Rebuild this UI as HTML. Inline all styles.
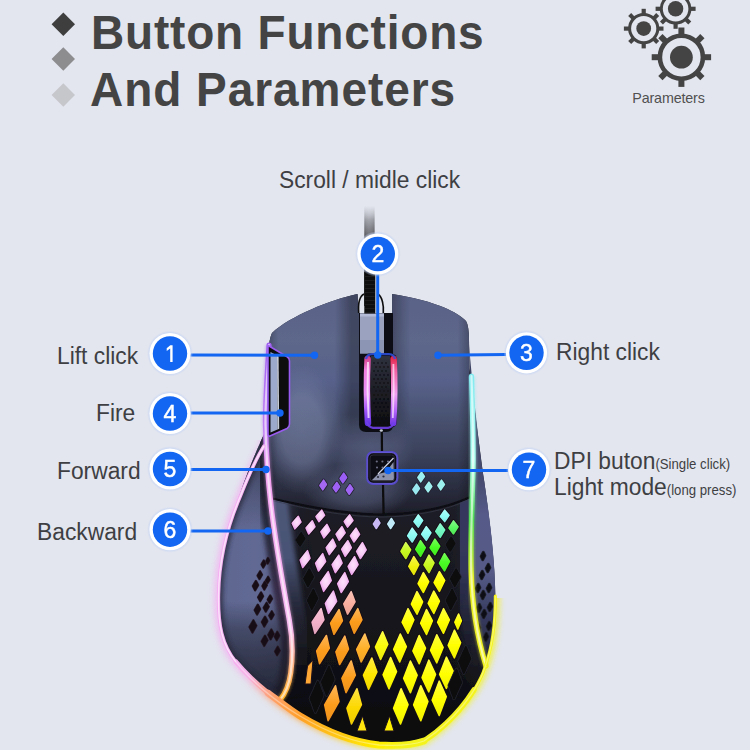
<!DOCTYPE html>
<html><head><meta charset="utf-8"><style>
html,body{margin:0;padding:0;}
body{width:750px;height:750px;overflow:hidden;background:#e3e6ef;position:relative;font-family:"Liberation Sans",sans-serif;}
.t{position:absolute;white-space:nowrap;line-height:1;}
.h{font-weight:700;font-size:46px;color:#444;letter-spacing:0.8px;transform:scaleY(1.05);transform-origin:0 0;}
.l{font-size:22.8px;color:#3e3f43;transform:scaleY(1.04);transform-origin:0 0;}
.s{font-size:13.2px;color:#3e3f43;}
svg{position:absolute;left:0;top:0;}
.bn{font-family:"Liberation Sans",sans-serif;font-size:23px;}
</style></head><body>
<div class="t h" style="left:91px;top:8px;">Button Functions</div>
<div class="t h" style="left:90px;top:65px;letter-spacing:0.95px;">And Parameters</div>
<div class="t" style="left:632.3px;top:90.8px;font-size:14.3px;letter-spacing:-0.15px;color:#505050;">Parameters</div>
<div class="t l" style="left:279px;top:168px;">Scroll / midle click</div>
<div class="t l" style="left:57px;top:343.5px;">Lift click</div>
<div class="t l" style="left:96px;top:401px;">Fire</div>
<div class="t l" style="left:57px;top:458.5px;">Forward</div>
<div class="t l" style="left:37px;top:520px;">Backward</div>
<div class="t l" style="left:556px;top:340px;">Right click</div>
<div class="t l" style="left:554px;top:448.5px;">DPI buton<span class="s">(Single click)</span></div>
<div class="t l" style="left:554px;top:475px;">Light mode<span class="s">(long press)</span></div>
<svg width="750" height="750" viewBox="0 0 750 750">
<defs>
<radialGradient id="halo"><stop offset="0.85" stop-color="#b9cdf5" stop-opacity="0.9"/><stop offset="1" stop-color="#c8d6f3" stop-opacity="0"/></radialGradient>
</defs>
<path d="M63.3 12.5 L75 24.2 L63.3 35.9 L51.6 24.2Z" fill="#3e3e3e"/>
<path d="M63.3 47.3 L75 59 L63.3 70.7 L51.6 59Z" fill="#8d8d8f"/>
<path d="M63.3 83.3 L75 95 L63.3 106.7 L51.6 95Z" fill="#c6c7cb"/>
<g fill="#444"><rect x="641.60" y="8.80" width="4.20" height="5.70" transform="rotate(0.0 643.7 28.6)"/><rect x="641.60" y="8.80" width="4.20" height="5.70" transform="rotate(45.0 643.7 28.6)"/><rect x="641.60" y="8.80" width="4.20" height="5.70" transform="rotate(90.0 643.7 28.6)"/><rect x="641.60" y="8.80" width="4.20" height="5.70" transform="rotate(135.0 643.7 28.6)"/><rect x="641.60" y="8.80" width="4.20" height="5.70" transform="rotate(180.0 643.7 28.6)"/><rect x="641.60" y="8.80" width="4.20" height="5.70" transform="rotate(225.0 643.7 28.6)"/><rect x="641.60" y="8.80" width="4.20" height="5.70" transform="rotate(270.0 643.7 28.6)"/><rect x="641.60" y="8.80" width="4.20" height="5.70" transform="rotate(315.0 643.7 28.6)"/><circle cx="643.7" cy="28.6" r="14.10" fill="none" stroke="#444" stroke-width="3.00"/><circle cx="643.7" cy="28.6" r="7.4"/></g><g fill="#444"><rect x="673.50" y="-11.20" width="4.20" height="5.70" transform="rotate(0.0 675.6 8.8)"/><rect x="673.50" y="-11.20" width="4.20" height="5.70" transform="rotate(45.0 675.6 8.8)"/><rect x="673.50" y="-11.20" width="4.20" height="5.70" transform="rotate(90.0 675.6 8.8)"/><rect x="673.50" y="-11.20" width="4.20" height="5.70" transform="rotate(135.0 675.6 8.8)"/><rect x="673.50" y="-11.20" width="4.20" height="5.70" transform="rotate(180.0 675.6 8.8)"/><rect x="673.50" y="-11.20" width="4.20" height="5.70" transform="rotate(225.0 675.6 8.8)"/><rect x="673.50" y="-11.20" width="4.20" height="5.70" transform="rotate(270.0 675.6 8.8)"/><rect x="673.50" y="-11.20" width="4.20" height="5.70" transform="rotate(315.0 675.6 8.8)"/><circle cx="675.6" cy="8.8" r="14.30" fill="none" stroke="#444" stroke-width="3.00"/><circle cx="675.6" cy="8.8" r="7.7"/></g><g fill="#444"><rect x="678.40" y="27.50" width="6.00" height="7.40" transform="rotate(0.0 681.4 57.2)"/><rect x="678.40" y="27.50" width="6.00" height="7.40" transform="rotate(45.0 681.4 57.2)"/><rect x="678.40" y="27.50" width="6.00" height="7.40" transform="rotate(90.0 681.4 57.2)"/><rect x="678.40" y="27.50" width="6.00" height="7.40" transform="rotate(135.0 681.4 57.2)"/><rect x="678.40" y="27.50" width="6.00" height="7.40" transform="rotate(180.0 681.4 57.2)"/><rect x="678.40" y="27.50" width="6.00" height="7.40" transform="rotate(225.0 681.4 57.2)"/><rect x="678.40" y="27.50" width="6.00" height="7.40" transform="rotate(270.0 681.4 57.2)"/><rect x="678.40" y="27.50" width="6.00" height="7.40" transform="rotate(315.0 681.4 57.2)"/><circle cx="681.4" cy="57.2" r="21.50" fill="none" stroke="#444" stroke-width="4.60"/><circle cx="681.4" cy="57.2" r="11.4"/></g>
<filter id="soft" x="0" y="0" width="100%" height="100%" filterUnits="userSpaceOnUse"><feGaussianBlur stdDeviation="0.45"/></filter><g filter="url(#soft)"><defs>
<linearGradient id="gTop" x1="0" y1="294" x2="0" y2="515" gradientUnits="userSpaceOnUse"><stop offset="0" stop-color="#5a6288"/><stop offset="0.208" stop-color="#5d678a"/><stop offset="0.394" stop-color="#57618a"/><stop offset="0.575" stop-color="#47506e"/><stop offset="0.756" stop-color="#373d56"/><stop offset="0.887" stop-color="#292c3d"/><stop offset="1" stop-color="#1c1d28"/></linearGradient>
<linearGradient id="gTopH" x1="266" y1="0" x2="470" y2="0" gradientUnits="userSpaceOnUse"><stop offset="0" stop-color="#000" stop-opacity="0.3"/><stop offset="0.06" stop-color="#000" stop-opacity="0"/><stop offset="0.94" stop-color="#000" stop-opacity="0"/><stop offset="1" stop-color="#000" stop-opacity="0.25"/></linearGradient>
<linearGradient id="gChan" x1="335" y1="0" x2="410" y2="0" gradientUnits="userSpaceOnUse"><stop offset="0" stop-color="#000" stop-opacity="0"/><stop offset="0.22" stop-color="#000" stop-opacity="0.3"/><stop offset="0.73" stop-color="#000" stop-opacity="0.3"/><stop offset="1" stop-color="#000" stop-opacity="0"/></linearGradient>
<linearGradient id="gChanM" x1="0" y1="294" x2="0" y2="445" gradientUnits="userSpaceOnUse"><stop offset="0" stop-color="#fff"/><stop offset="0.8" stop-color="#fff"/><stop offset="1" stop-color="#fff" stop-opacity="0"/></linearGradient>
<mask id="mChan"><rect x="330" y="290" width="90" height="160" fill="url(#gChanM)"/></mask>
<radialGradient id="gTopHL2" cx="358" cy="490" r="55" gradientUnits="userSpaceOnUse" gradientTransform="translate(358 490) scale(1 0.5) translate(-358 -490)"><stop offset="0" stop-color="#5a6282" stop-opacity="0.65"/><stop offset="0.5" stop-color="#5a6282" stop-opacity="0.5"/><stop offset="1" stop-color="#5a6282" stop-opacity="0"/></radialGradient>
<radialGradient id="gTopHL3" cx="372" cy="448" r="42" gradientUnits="userSpaceOnUse"><stop offset="0" stop-color="#646c8e" stop-opacity="0.5"/><stop offset="0.6" stop-color="#646c8e" stop-opacity="0.3"/><stop offset="1" stop-color="#646c8e" stop-opacity="0"/></radialGradient>
<radialGradient id="gTopHL" cx="302" cy="430" r="65" gradientUnits="userSpaceOnUse" gradientTransform="translate(302 430) scale(0.62 1) translate(-302 -430)"><stop offset="0" stop-color="#8a94b8" stop-opacity="0.45"/><stop offset="0.5" stop-color="#8a94b8" stop-opacity="0.4"/><stop offset="0.8" stop-color="#8a94b8" stop-opacity="0.12"/><stop offset="1" stop-color="#8a94b8" stop-opacity="0"/></radialGradient>
<linearGradient id="gWL" x1="218" y1="0" x2="292" y2="0" gradientUnits="userSpaceOnUse"><stop offset="0" stop-color="#5e6690"/><stop offset="0.5" stop-color="#626a94"/><stop offset="1" stop-color="#5a6088"/></linearGradient>
<linearGradient id="gWLv" x1="0" y1="440" x2="0" y2="700" gradientUnits="userSpaceOnUse"><stop offset="0" stop-color="#1a1c28" stop-opacity="0.6"/><stop offset="0.23" stop-color="#1a1c28" stop-opacity="0.2"/><stop offset="0.35" stop-color="#1a1c28" stop-opacity="0"/><stop offset="0.62" stop-color="#1a1c28" stop-opacity="0"/><stop offset="0.73" stop-color="#1a1c28" stop-opacity="0.4"/><stop offset="0.835" stop-color="#1a1c28" stop-opacity="0.62"/><stop offset="0.95" stop-color="#1a1c28" stop-opacity="0.8"/></linearGradient>
<linearGradient id="gWLband" x1="0" y1="430" x2="0" y2="700" gradientUnits="userSpaceOnUse"><stop offset="0" stop-color="#1c1e2a"/><stop offset="0.4" stop-color="#2a2c40"/><stop offset="0.6" stop-color="#362a46"/><stop offset="1" stop-color="#2a2434"/></linearGradient>
<linearGradient id="gWR" x1="470" y1="350" x2="495" y2="660" gradientUnits="userSpaceOnUse"><stop offset="0" stop-color="#3a4060"/><stop offset="0.42" stop-color="#464c70"/><stop offset="0.53" stop-color="#555a88"/><stop offset="0.72" stop-color="#545a86"/><stop offset="0.85" stop-color="#383c60"/><stop offset="1" stop-color="#22243a"/></linearGradient>
<linearGradient id="gPalm" x1="0" y1="500" x2="0" y2="745" gradientUnits="userSpaceOnUse"><stop offset="0" stop-color="#1e1f27"/><stop offset="0.6" stop-color="#131318"/><stop offset="1" stop-color="#0a0a0d"/></linearGradient>
<linearGradient id="gRim" x1="240" y1="640" x2="400" y2="750" gradientUnits="userSpaceOnUse"><stop offset="0" stop-color="#f4b0f2"/><stop offset="0.14" stop-color="#f6b4e8"/><stop offset="0.3" stop-color="#ffa070"/><stop offset="0.48" stop-color="#ffa028"/><stop offset="0.72" stop-color="#ffcc10"/><stop offset="0.9" stop-color="#fff000"/><stop offset="1" stop-color="#f4f41c"/></linearGradient>
<linearGradient id="gInL" x1="0" y1="340" x2="0" y2="700" gradientUnits="userSpaceOnUse"><stop offset="0" stop-color="#a060f0"/><stop offset="0.25" stop-color="#c080f4"/><stop offset="0.35" stop-color="#f2a0f0"/><stop offset="0.8" stop-color="#f7b8f0"/><stop offset="0.92" stop-color="#ffb070"/><stop offset="1" stop-color="#ffb020"/></linearGradient>
<linearGradient id="gInR" x1="0" y1="370" x2="0" y2="670" gradientUnits="userSpaceOnUse"><stop offset="0" stop-color="#80e8f0"/><stop offset="0.3" stop-color="#b0fff0"/><stop offset="0.5" stop-color="#50e050"/><stop offset="0.7" stop-color="#e8f020"/><stop offset="1" stop-color="#f0f020"/></linearGradient>
<linearGradient id="gCable" x1="0" y1="206" x2="0" y2="300" gradientUnits="userSpaceOnUse"><stop offset="0" stop-color="#c0c2ca" stop-opacity="0"/><stop offset="0.05" stop-color="#c0c2ca" stop-opacity="0.5"/><stop offset="0.14" stop-color="#a4a6ae"/><stop offset="0.3" stop-color="#6a6b72"/><stop offset="0.55" stop-color="#1a1a1c"/><stop offset="1" stop-color="#0a0a0c"/></linearGradient>
<linearGradient id="gCableH" x1="364" y1="0" x2="375" y2="0" gradientUnits="userSpaceOnUse"><stop offset="0" stop-color="#000" stop-opacity="0.35"/><stop offset="0.45" stop-color="#fff" stop-opacity="0.12"/><stop offset="1" stop-color="#000" stop-opacity="0.35"/></linearGradient>
<filter id="blur2" x="-20%" y="-20%" width="140%" height="140%"><feGaussianBlur stdDeviation="2"/></filter>
<filter id="blur1" x="-20%" y="-20%" width="140%" height="140%"><feGaussianBlur stdDeviation="0.8"/></filter>
<filter id="blur4" x="-30%" y="-30%" width="160%" height="160%"><feGaussianBlur stdDeviation="4"/></filter>
<linearGradient id="gCabM" x1="0" y1="206" x2="0" y2="260" gradientUnits="userSpaceOnUse"><stop offset="0" stop-color="#fff" stop-opacity="0"/><stop offset="1" stop-color="#fff"/></linearGradient>
<mask id="mCab"><rect x="360" y="200" width="20" height="110" fill="url(#gCabM)"/></mask>
<clipPath id="cOuter"><path d="M 272 333 C 290 316, 330 300, 357.5 294 L 359 313 L 392 313 L 392 294 C 425 299, 455 309, 466 321 Q 469 326, 469 340 L 469.5 368 C 474 405, 480 450, 484 480 C 489 515, 495 560, 495.3 596 C 495.5 625, 492 648, 485 667 C 478 690, 455 720, 424 741 C 410 746, 395 746, 379 745 C 350 742, 320 728, 300 716 C 280 704, 255 685, 236 662 C 222 645, 218 625, 218.5 595 C 219 560, 228 525, 240 497 C 246 482, 255 460, 264 446 C 266 420, 267 370, 269 345 Q 270 337, 272 333 Z"/></clipPath>
<clipPath id="cLower"><path d="M 150 440 L 262 440 L 275 560 L 470 560 L 482 598 L 560 598 L 560 760 L 150 760 Z"/></clipPath>
<clipPath id="cWL"><path d="M 265 432 C 252 460, 222 530, 218.5 592 C 217 625, 225 650, 240 667 C 252 680, 265 692, 280 700 C 285 694, 289 685, 290.7 673 C 292.5 660, 293 640, 289.3 620 C 283 585, 275 540, 271 505 C 268 480, 266 450, 265.5 425 Z"/></clipPath>
</defs>
<rect x="364.3" y="206" width="10.3" height="100" fill="url(#gCable)"/>
<rect x="364.3" y="206" width="10.3" height="100" fill="url(#gCableH)" mask="url(#mCab)"/>
<path d="M 272 333 C 290 316, 330 300, 357.5 294 L 359 313 L 392 313 L 392 294 C 425 299, 455 309, 466 321 Q 469 326, 469 340 L 469.5 368 C 474 405, 480 450, 484 480 C 489 515, 495 560, 495.3 596 C 495.5 625, 492 648, 485 667 C 478 690, 455 720, 424 741 C 410 746, 395 746, 379 745 C 350 742, 320 728, 300 716 C 280 704, 255 685, 236 662 C 222 645, 218 625, 218.5 595 C 219 560, 228 525, 240 497 C 246 482, 255 460, 264 446 C 266 420, 267 370, 269 345 Q 270 337, 272 333 Z" fill="none" stroke="url(#gRim)" stroke-width="6" opacity="0.45" filter="url(#blur4)" clip-path="url(#cLower)"/>
<path d="M 272 333 C 290 316, 330 300, 357.5 294 L 359 313 L 392 313 L 392 294 C 425 299, 455 309, 466 321 Q 469 326, 469 340 L 469.5 368 C 474 405, 480 450, 484 480 C 489 515, 495 560, 495.3 596 C 495.5 625, 492 648, 485 667 C 478 690, 455 720, 424 741 C 410 746, 395 746, 379 745 C 350 742, 320 728, 300 716 C 280 704, 255 685, 236 662 C 222 645, 218 625, 218.5 595 C 219 560, 228 525, 240 497 C 246 482, 255 460, 264 446 C 266 420, 267 370, 269 345 Q 270 337, 272 333 Z" fill="none" stroke="url(#gRim)" stroke-width="9" opacity="0.5" filter="url(#blur2)" clip-path="url(#cLower)"/>
<path d="M 272 333 C 290 316, 330 300, 357.5 294 L 359 313 L 392 313 L 392 294 C 425 299, 455 309, 466 321 Q 469 326, 469 340 L 469.5 368 C 474 405, 480 450, 484 480 C 489 515, 495 560, 495.3 596 C 495.5 625, 492 648, 485 667 C 478 690, 455 720, 424 741 C 410 746, 395 746, 379 745 C 350 742, 320 728, 300 716 C 280 704, 255 685, 236 662 C 222 645, 218 625, 218.5 595 C 219 560, 228 525, 240 497 C 246 482, 255 460, 264 446 C 266 420, 267 370, 269 345 Q 270 337, 272 333 Z" fill="url(#gPalm)"/>
<defs><linearGradient id="gPalmH" x1="270" y1="0" x2="480" y2="0" gradientUnits="userSpaceOnUse"><stop offset="0" stop-color="#59608a" stop-opacity="0.75"/><stop offset="0.1" stop-color="#3a3f5c" stop-opacity="0.35"/><stop offset="0.2" stop-color="#000" stop-opacity="0"/><stop offset="0.82" stop-color="#000" stop-opacity="0"/><stop offset="0.93" stop-color="#3a3f5c" stop-opacity="0.35"/><stop offset="1" stop-color="#59608a" stop-opacity="0.6"/></linearGradient><linearGradient id="gPalmV" x1="0" y1="495" x2="0" y2="700" gradientUnits="userSpaceOnUse"><stop offset="0" stop-color="#fff"/><stop offset="0.45" stop-color="#fff" stop-opacity="0.6"/><stop offset="1" stop-color="#fff" stop-opacity="0"/></linearGradient><mask id="mPalmV"><rect x="200" y="480" width="320" height="280" fill="url(#gPalmV)"/></mask></defs>
<path d="M 272 333 C 290 316, 330 300, 357.5 294 L 359 313 L 392 313 L 392 294 C 425 299, 455 309, 466 321 Q 469 326, 469 340 L 469.5 368 C 474 405, 480 450, 484 480 C 489 515, 495 560, 495.3 596 C 495.5 625, 492 648, 485 667 C 478 690, 455 720, 424 741 C 410 746, 395 746, 379 745 C 350 742, 320 728, 300 716 C 280 704, 255 685, 236 662 C 222 645, 218 625, 218.5 595 C 219 560, 228 525, 240 497 C 246 482, 255 460, 264 446 C 266 420, 267 370, 269 345 Q 270 337, 272 333 Z" fill="url(#gPalmH)" mask="url(#mPalmV)"/>
<defs><linearGradient id="gBandPL" x1="0" y1="495" x2="0" y2="680" gradientUnits="userSpaceOnUse"><stop offset="0" stop-color="#4e5878"/><stop offset="0.35" stop-color="#485274"/><stop offset="0.6" stop-color="#2e3246" stop-opacity="0.7"/><stop offset="1" stop-color="#1c1d26" stop-opacity="0"/></linearGradient><linearGradient id="gBandPR" x1="0" y1="495" x2="0" y2="680" gradientUnits="userSpaceOnUse"><stop offset="0" stop-color="#363a5c"/><stop offset="0.4" stop-color="#33365a"/><stop offset="0.7" stop-color="#262840" stop-opacity="0.6"/><stop offset="1" stop-color="#1c1d26" stop-opacity="0"/></linearGradient></defs>
<path d="M 269 345 C 267 380, 265 405, 265.5 425 C 266 450, 268 480, 271 505 C 275 540, 283 585, 289.3 620 C 293 640, 292.5 660, 290.7 673 C 289 685, 285 694, 280 700" fill="none" stroke="url(#gBandPL)" stroke-width="16" transform="translate(9 0)" filter="url(#blur2)" clip-path="url(#cOuter)"/>
<path d="M 471.5 376 C 472.5 410, 473.5 440, 473 470 C 472 510, 470.5 540, 471.2 570 C 472 610, 478 640, 486 666" fill="none" stroke="url(#gBandPR)" stroke-width="16" transform="translate(-8 0)" filter="url(#blur2)" clip-path="url(#cOuter)"/>
<path d="M 272 333 C 290 316, 330 300, 357.5 294 L 359 313 L 392 313 L 392 294 C 425 299, 455 309, 466 321 Q 469 326, 469 340 L 470.5 497 C 447 508, 412 514.5, 382 514.6 C 352 514.5, 316 509, 270 498 C 268 475, 266 450, 265.5 425 C 266 400, 267 370, 269 345 Q 270 337, 272 333 Z" fill="url(#gTop)"/>
<path d="M 272 333 C 290 316, 330 300, 357.5 294 L 359 313 L 392 313 L 392 294 C 425 299, 455 309, 466 321 Q 469 326, 469 340 L 470.5 497 C 447 508, 412 514.5, 382 514.6 C 352 514.5, 316 509, 270 498 C 268 475, 266 450, 265.5 425 C 266 400, 267 370, 269 345 Q 270 337, 272 333 Z" fill="url(#gTopH)"/>
<path d="M 272 333 C 290 316, 330 300, 357.5 294 L 359 313 L 392 313 L 392 294 C 425 299, 455 309, 466 321 Q 469 326, 469 340 L 470.5 497 C 447 508, 412 514.5, 382 514.6 C 352 514.5, 316 509, 270 498 C 268 475, 266 450, 265.5 425 C 266 400, 267 370, 269 345 Q 270 337, 272 333 Z" fill="url(#gTopHL)"/>
<path d="M 272 333 C 290 316, 330 300, 357.5 294 L 359 313 L 392 313 L 392 294 C 425 299, 455 309, 466 321 Q 469 326, 469 340 L 470.5 497 C 447 508, 412 514.5, 382 514.6 C 352 514.5, 316 509, 270 498 C 268 475, 266 450, 265.5 425 C 266 400, 267 370, 269 345 Q 270 337, 272 333 Z" fill="url(#gTopHL2)"/>
<path d="M 272 333 C 290 316, 330 300, 357.5 294 L 359 313 L 392 313 L 392 294 C 425 299, 455 309, 466 321 Q 469 326, 469 340 L 470.5 497 C 447 508, 412 514.5, 382 514.6 C 352 514.5, 316 509, 270 498 C 268 475, 266 450, 265.5 425 C 266 400, 267 370, 269 345 Q 270 337, 272 333 Z" fill="url(#gTopHL3)"/>
<clipPath id="cTop"><path d="M 272 333 C 290 316, 330 300, 357.5 294 L 359 313 L 392 313 L 392 294 C 425 299, 455 309, 466 321 Q 469 326, 469 340 L 470.5 497 C 447 508, 412 514.5, 382 514.6 C 352 514.5, 316 509, 270 498 C 268 475, 266 450, 265.5 425 C 266 400, 267 370, 269 345 Q 270 337, 272 333 Z"/></clipPath>
<rect x="335" y="294" width="75" height="155" fill="url(#gChan)" mask="url(#mChan)" clip-path="url(#cTop)"/>
<path d="M 265 432 C 252 460, 222 530, 218.5 592 C 217 625, 225 650, 240 667 C 252 680, 265 692, 280 700 C 285 694, 289 685, 290.7 673 C 292.5 660, 293 640, 289.3 620 C 283 585, 275 540, 271 505 C 268 480, 266 450, 265.5 425 Z" fill="url(#gWL)"/>
<path d="M 269 345 C 267 380, 265 405, 265.5 425 C 266 450, 268 480, 271 505 C 275 540, 283 585, 289.3 620 C 293 640, 292.5 660, 290.7 673 C 289 685, 285 694, 280 700" fill="none" stroke="url(#gWLband)" stroke-width="22" filter="url(#blur2)" clip-path="url(#cWL)"/>
<path d="M 265 432 C 252 460, 222 530, 218.5 592 C 217 625, 225 650, 240 667 C 252 680, 265 692, 280 700 C 285 694, 289 685, 290.7 673 C 292.5 660, 293 640, 289.3 620 C 283 585, 275 540, 271 505 C 268 480, 266 450, 265.5 425 Z" fill="url(#gWLv)"/>
<path d="M 264 446 C 255 460, 246 482, 240 497 C 228 525, 219 560, 218.5 595 C 218 625, 222 645, 236 662 C 250 678, 265 690, 280 700" fill="none" stroke="#252838" stroke-width="9" opacity="0.75" filter="url(#blur2)" clip-path="url(#cWL)"/>
<path d="M 469 345 C 472 380, 478 440, 484 480 C 490 520, 495 560, 495.3 596 C 495.5 625, 492 650, 486 666 C 481 652, 475 625, 472.5 595 C 470 560, 470.5 520, 471 480 C 472 440, 470.5 390, 469 345 Z" fill="url(#gWR)"/>
<path d="M 270 498 C 316 509, 352 514.5, 382 514.6 C 412 514.5, 447 508, 470.5 497" fill="none" stroke="#0d0d12" stroke-width="2.2"/>
<path d="M 272 500.5 C 316 511.5, 352 517, 382 517 C 412 517, 447 510.5, 469 499.5" fill="none" stroke="#3a3d50" stroke-width="1" opacity="0.6"/>
<path d="M 381.8 428 L 382 452 M 383 484 L 383.6 514" stroke="#0a0a0e" stroke-width="2.2"/>
<defs><radialGradient id="dg0" cx="0.5" cy="0.45" r="0.6"><stop offset="0" stop-color="#fde0fb"/><stop offset="0.55" stop-color="#f8ccf6"/><stop offset="1" stop-color="#e89ce8"/></radialGradient></defs>
<path d="M298.3 516.4 L301.0 522.0 L294.9 528.8 L292.2 523.2Z" fill="#140a14" stroke="#140a14" stroke-width="3.2" stroke-linejoin="round" opacity="1.0"/><path d="M298.3 516.4 L301.0 522.0 L294.9 528.8 L292.2 523.2Z" fill="url(#dg0)" stroke="url(#dg0)" stroke-width="1.6" stroke-linejoin="round" opacity="1.0"/>
<path d="M321.7 510.2 L324.6 515.3 L318.9 521.6 L316.0 516.5Z" fill="#140a14" stroke="#140a14" stroke-width="3.2" stroke-linejoin="round" opacity="1.0"/><path d="M321.7 510.2 L324.6 515.3 L318.9 521.6 L316.0 516.5Z" fill="url(#dg0)" stroke="url(#dg0)" stroke-width="1.6" stroke-linejoin="round" opacity="1.0"/>
<path d="M312.3 520.9 L315.0 526.8 L308.7 533.9 L306.0 528.0Z" fill="#140a14" stroke="#140a14" stroke-width="3.2" stroke-linejoin="round" opacity="1.0"/><path d="M312.3 520.9 L315.0 526.8 L308.7 533.9 L306.0 528.0Z" fill="url(#dg0)" stroke="url(#dg0)" stroke-width="1.6" stroke-linejoin="round" opacity="1.0"/>
<path d="M326.9 524.4 L329.9 530.4 L323.9 537.8 L320.9 531.8Z" fill="#140a14" stroke="#140a14" stroke-width="3.2" stroke-linejoin="round" opacity="1.0"/><path d="M326.9 524.4 L329.9 530.4 L323.9 537.8 L320.9 531.8Z" fill="url(#dg0)" stroke="url(#dg0)" stroke-width="1.6" stroke-linejoin="round" opacity="1.0"/>
<path d="M349.6 514.9 L353.0 520.4 L347.6 527.1 L344.2 521.6Z" fill="#140a14" stroke="#140a14" stroke-width="3.2" stroke-linejoin="round" opacity="1.0"/><path d="M349.6 514.9 L353.0 520.4 L347.6 527.1 L344.2 521.6Z" fill="url(#dg0)" stroke="url(#dg0)" stroke-width="1.6" stroke-linejoin="round" opacity="1.0"/>
<path d="M341.9 526.7 L345.2 532.8 L339.3 540.3 L336.0 534.2Z" fill="#140a14" stroke="#140a14" stroke-width="3.2" stroke-linejoin="round" opacity="1.0"/><path d="M341.9 526.7 L345.2 532.8 L339.3 540.3 L336.0 534.2Z" fill="url(#dg0)" stroke="url(#dg0)" stroke-width="1.6" stroke-linejoin="round" opacity="1.0"/>
<path d="M356.0 528.2 L359.6 534.4 L354.0 542.0 L350.4 535.8Z" fill="#140a14" stroke="#140a14" stroke-width="3.2" stroke-linejoin="round" opacity="1.0"/><path d="M356.0 528.2 L359.6 534.4 L354.0 542.0 L350.4 535.8Z" fill="url(#dg0)" stroke="url(#dg0)" stroke-width="1.6" stroke-linejoin="round" opacity="1.0"/>
<path d="M332.7 539.2 L335.8 546.1 L329.3 554.6 L326.2 547.7Z" fill="#140a14" stroke="#140a14" stroke-width="3.2" stroke-linejoin="round" opacity="1.0"/><path d="M332.7 539.2 L335.8 546.1 L329.3 554.6 L326.2 547.7Z" fill="url(#dg0)" stroke="url(#dg0)" stroke-width="1.6" stroke-linejoin="round" opacity="1.0"/>
<path d="M347.8 540.7 L351.3 547.7 L345.2 556.3 L341.7 549.3Z" fill="#140a14" stroke="#140a14" stroke-width="3.2" stroke-linejoin="round" opacity="1.0"/><path d="M347.8 540.7 L351.3 547.7 L345.2 556.3 L341.7 549.3Z" fill="url(#dg0)" stroke="url(#dg0)" stroke-width="1.6" stroke-linejoin="round" opacity="1.0"/>
<path d="M362.4 542.7 L366.2 549.8 L360.4 558.5 L356.6 551.4Z" fill="#140a14" stroke="#140a14" stroke-width="3.2" stroke-linejoin="round" opacity="1.0"/><path d="M362.4 542.7 L366.2 549.8 L360.4 558.5 L356.6 551.4Z" fill="url(#dg0)" stroke="url(#dg0)" stroke-width="1.6" stroke-linejoin="round" opacity="1.0"/>
<path d="M307.5 550.7 L310.0 558.3 L302.7 567.5 L300.2 559.9Z" fill="#140a14" stroke="#140a14" stroke-width="3.2" stroke-linejoin="round" opacity="1.0"/><path d="M307.5 550.7 L310.0 558.3 L302.7 567.5 L300.2 559.9Z" fill="url(#dg0)" stroke="url(#dg0)" stroke-width="1.6" stroke-linejoin="round" opacity="1.0"/>
<path d="M322.7 553.7 L325.6 561.4 L318.5 570.9 L315.6 563.2Z" fill="#140a14" stroke="#140a14" stroke-width="3.2" stroke-linejoin="round" opacity="1.0"/><path d="M322.7 553.7 L325.6 561.4 L318.5 570.9 L315.6 563.2Z" fill="url(#dg0)" stroke="url(#dg0)" stroke-width="1.6" stroke-linejoin="round" opacity="1.0"/>
<path d="M338.8 555.2 L342.1 563.0 L335.4 572.6 L332.1 564.8Z" fill="#140a14" stroke="#140a14" stroke-width="3.2" stroke-linejoin="round" opacity="1.0"/><path d="M338.8 555.2 L342.1 563.0 L335.4 572.6 L332.1 564.8Z" fill="url(#dg0)" stroke="url(#dg0)" stroke-width="1.6" stroke-linejoin="round" opacity="1.0"/>
<path d="M354.5 556.7 L358.1 564.6 L351.7 574.3 L348.1 566.4Z" fill="#140a14" stroke="#140a14" stroke-width="3.2" stroke-linejoin="round" opacity="1.0"/><path d="M354.5 556.7 L358.1 564.6 L351.7 574.3 L348.1 566.4Z" fill="url(#dg0)" stroke="url(#dg0)" stroke-width="1.6" stroke-linejoin="round" opacity="1.0"/>
<path d="M328.2 571.7 L331.2 580.5 L323.6 591.3 L320.6 582.5Z" fill="#140a14" stroke="#140a14" stroke-width="3.2" stroke-linejoin="round" opacity="1.0"/><path d="M328.2 571.7 L331.2 580.5 L323.6 591.3 L320.6 582.5Z" fill="url(#dg0)" stroke="url(#dg0)" stroke-width="1.6" stroke-linejoin="round" opacity="1.0"/>
<path d="M344.8 572.7 L348.3 581.6 L341.2 592.5 L337.7 583.6Z" fill="#140a14" stroke="#140a14" stroke-width="3.2" stroke-linejoin="round" opacity="1.0"/><path d="M344.8 572.7 L348.3 581.6 L341.2 592.5 L337.7 583.6Z" fill="url(#dg0)" stroke="url(#dg0)" stroke-width="1.6" stroke-linejoin="round" opacity="1.0"/>
<path d="M333.4 591.2 L336.6 601.2 L328.6 613.4 L325.4 603.4Z" fill="#140a14" stroke="#140a14" stroke-width="3.2" stroke-linejoin="round" opacity="1.0"/><path d="M333.4 591.2 L336.6 601.2 L328.6 613.4 L325.4 603.4Z" fill="url(#dg0)" stroke="url(#dg0)" stroke-width="1.6" stroke-linejoin="round" opacity="1.0"/>
<defs><linearGradient id="dg1" x1="0" y1="0" x2="0" y2="1"><stop offset="0" stop-color="#fac2b6"/><stop offset="0.55" stop-color="#f9ae9e"/><stop offset="1" stop-color="#eaa495"/></linearGradient></defs>
<path d="M351.2 591.7 L355.0 601.8 L347.6 614.1 L343.8 604.0Z" fill="#140a14" stroke="#140a14" stroke-width="3.2" stroke-linejoin="round" opacity="1.0"/><path d="M351.2 591.7 L355.0 601.8 L347.6 614.1 L343.8 604.0Z" fill="url(#dg1)" stroke="url(#dg1)" stroke-width="1.6" stroke-linejoin="round" opacity="1.0"/>
<defs><linearGradient id="dg2" x1="0" y1="0" x2="0" y2="1"><stop offset="0" stop-color="#f6c4d6"/><stop offset="0.55" stop-color="#f3b0c8"/><stop offset="1" stop-color="#e4a5bc"/></linearGradient></defs>
<path d="M321.1 608.7 L323.9 619.8 L314.9 633.3 L312.1 622.2Z" fill="#140a14" stroke="#140a14" stroke-width="3.2" stroke-linejoin="round" opacity="1.0"/><path d="M321.1 608.7 L323.9 619.8 L314.9 633.3 L312.1 622.2Z" fill="url(#dg2)" stroke="url(#dg2)" stroke-width="1.6" stroke-linejoin="round" opacity="1.0"/>
<defs><linearGradient id="dg3" x1="0" y1="0" x2="0" y2="1"><stop offset="0" stop-color="#fdb555"/><stop offset="0.55" stop-color="#fc9c1c"/><stop offset="1" stop-color="#ed931a"/></linearGradient></defs>
<path d="M339.0 609.6 L342.4 620.8 L334.0 634.4 L330.6 623.2Z" fill="#140a14" stroke="#140a14" stroke-width="3.2" stroke-linejoin="round" opacity="1.0"/><path d="M339.0 609.6 L342.4 620.8 L334.0 634.4 L330.6 623.2Z" fill="url(#dg3)" stroke="url(#dg3)" stroke-width="1.6" stroke-linejoin="round" opacity="1.0"/>
<path d="M357.8 608.7 L361.9 619.8 L354.2 633.3 L350.1 622.2Z" fill="#140a14" stroke="#140a14" stroke-width="3.2" stroke-linejoin="round" opacity="1.0"/><path d="M357.8 608.7 L361.9 619.8 L354.2 633.3 L350.1 622.2Z" fill="url(#dg3)" stroke="url(#dg3)" stroke-width="1.6" stroke-linejoin="round" opacity="1.0"/>
<path d="M326.4 635.5 L329.3 648.2 L319.6 663.7 L316.7 651.0Z" fill="#140a14" stroke="#140a14" stroke-width="3.2" stroke-linejoin="round" opacity="1.0"/><path d="M326.4 635.5 L329.3 648.2 L319.6 663.7 L316.7 651.0Z" fill="url(#dg3)" stroke="url(#dg3)" stroke-width="1.6" stroke-linejoin="round" opacity="1.0"/>
<path d="M344.8 636.2 L348.5 649.0 L339.6 664.5 L335.9 651.8Z" fill="#140a14" stroke="#140a14" stroke-width="3.2" stroke-linejoin="round" opacity="1.0"/><path d="M344.8 636.2 L348.5 649.0 L339.6 664.5 L335.9 651.8Z" fill="url(#dg3)" stroke="url(#dg3)" stroke-width="1.6" stroke-linejoin="round" opacity="1.0"/>
<defs><linearGradient id="dg4" x1="0" y1="0" x2="0" y2="1"><stop offset="0" stop-color="#ffc45e"/><stop offset="0.55" stop-color="#ffb028"/><stop offset="1" stop-color="#f0a526"/></linearGradient></defs>
<path d="M364.8 634.0 L369.3 646.6 L361.2 662.0 L356.7 649.4Z" fill="#140a14" stroke="#140a14" stroke-width="3.2" stroke-linejoin="round" opacity="1.0"/><path d="M364.8 634.0 L369.3 646.6 L361.2 662.0 L356.7 649.4Z" fill="url(#dg4)" stroke="url(#dg4)" stroke-width="1.6" stroke-linejoin="round" opacity="1.0"/>
<path d="M351.2 661.0 L355.3 675.2 L346.0 692.6 L341.9 678.4Z" fill="#140a14" stroke="#140a14" stroke-width="3.2" stroke-linejoin="round" opacity="1.0"/><path d="M351.2 661.0 L355.3 675.2 L346.0 692.6 L341.9 678.4Z" fill="url(#dg3)" stroke="url(#dg3)" stroke-width="1.6" stroke-linejoin="round" opacity="1.0"/>
<path d="M335.5 685.8 L338.9 701.5 L328.1 720.7 L324.7 704.9Z" fill="#140a14" stroke="#140a14" stroke-width="3.2" stroke-linejoin="round" opacity="1.0"/><path d="M335.5 685.8 L338.9 701.5 L328.1 720.7 L324.7 704.9Z" fill="url(#dg3)" stroke="url(#dg3)" stroke-width="1.6" stroke-linejoin="round" opacity="1.0"/>
<defs><linearGradient id="dg5" x1="0" y1="0" x2="0" y2="1"><stop offset="0" stop-color="#fbfb46"/><stop offset="0.55" stop-color="#fafa08"/><stop offset="1" stop-color="#ebeb08"/></linearGradient></defs>
<path d="M382.6 631.8 L387.8 644.2 L380.6 659.5 L375.4 647.0Z" fill="#140a14" stroke="#140a14" stroke-width="3.2" stroke-linejoin="round" opacity="1.0"/><path d="M382.6 631.8 L387.8 644.2 L380.6 659.5 L375.4 647.0Z" fill="url(#dg5)" stroke="url(#dg5)" stroke-width="1.6" stroke-linejoin="round" opacity="1.0"/>
<defs><linearGradient id="dg6" x1="0" y1="0" x2="0" y2="1"><stop offset="0" stop-color="#ffec40"/><stop offset="0.55" stop-color="#ffe600"/><stop offset="1" stop-color="#f0d800"/></linearGradient></defs>
<path d="M371.8 658.0 L376.9 672.0 L368.6 689.2 L363.5 675.2Z" fill="#140a14" stroke="#140a14" stroke-width="3.2" stroke-linejoin="round" opacity="1.0"/><path d="M371.8 658.0 L376.9 672.0 L368.6 689.2 L363.5 675.2Z" fill="url(#dg6)" stroke="url(#dg6)" stroke-width="1.6" stroke-linejoin="round" opacity="1.0"/>
<defs><linearGradient id="dg7" x1="0" y1="0" x2="0" y2="1"><stop offset="0" stop-color="#ffff40"/><stop offset="0.55" stop-color="#ffff00"/><stop offset="1" stop-color="#f0f000"/></linearGradient></defs>
<path d="M390.6 657.6 L396.5 671.6 L389.0 688.8 L383.1 674.8Z" fill="#140a14" stroke="#140a14" stroke-width="3.2" stroke-linejoin="round" opacity="1.0"/><path d="M390.6 657.6 L396.5 671.6 L389.0 688.8 L383.1 674.8Z" fill="url(#dg7)" stroke="url(#dg7)" stroke-width="1.6" stroke-linejoin="round" opacity="1.0"/>
<defs><linearGradient id="dg8" x1="0" y1="0" x2="0" y2="1"><stop offset="0" stop-color="#fde240"/><stop offset="0.55" stop-color="#fcd800"/><stop offset="1" stop-color="#edcb00"/></linearGradient></defs>
<path d="M356.9 688.8 L361.4 704.6 L351.5 724.0 L347.0 708.2Z" fill="#140a14" stroke="#140a14" stroke-width="3.2" stroke-linejoin="round" opacity="1.0"/><path d="M356.9 688.8 L361.4 704.6 L351.5 724.0 L347.0 708.2Z" fill="url(#dg8)" stroke="url(#dg8)" stroke-width="1.6" stroke-linejoin="round" opacity="1.0"/>
<defs><linearGradient id="dg9" x1="0" y1="0" x2="0" y2="1"><stop offset="0" stop-color="#aafdf7"/><stop offset="0.55" stop-color="#8efcf4"/><stop offset="1" stop-color="#85ede5"/></linearGradient></defs>
<path d="M418.3 514.9 L422.7 520.4 L418.3 527.1 L413.9 521.6Z" fill="#140a14" stroke="#140a14" stroke-width="3.2" stroke-linejoin="round" opacity="1.0"/><path d="M418.3 514.9 L422.7 520.4 L418.3 527.1 L413.9 521.6Z" fill="url(#dg9)" stroke="url(#dg9)" stroke-width="1.6" stroke-linejoin="round" opacity="1.0"/>
<path d="M444.7 510.2 L449.0 515.3 L444.7 521.6 L440.4 516.5Z" fill="#140a14" stroke="#140a14" stroke-width="3.2" stroke-linejoin="round" opacity="1.0"/><path d="M444.7 510.2 L449.0 515.3 L444.7 521.6 L440.4 516.5Z" fill="url(#dg9)" stroke="url(#dg9)" stroke-width="1.6" stroke-linejoin="round" opacity="1.0"/>
<path d="M412.2 528.2 L416.8 534.4 L412.2 542.0 L407.6 535.8Z" fill="#140a14" stroke="#140a14" stroke-width="3.2" stroke-linejoin="round" opacity="1.0"/><path d="M412.2 528.2 L416.8 534.4 L412.2 542.0 L407.6 535.8Z" fill="url(#dg9)" stroke="url(#dg9)" stroke-width="1.6" stroke-linejoin="round" opacity="1.0"/>
<path d="M426.3 526.7 L430.9 532.8 L426.3 540.3 L421.7 534.2Z" fill="#140a14" stroke="#140a14" stroke-width="3.2" stroke-linejoin="round" opacity="1.0"/><path d="M426.3 526.7 L430.9 532.8 L426.3 540.3 L421.7 534.2Z" fill="url(#dg9)" stroke="url(#dg9)" stroke-width="1.6" stroke-linejoin="round" opacity="1.0"/>
<defs><linearGradient id="dg10" x1="0" y1="0" x2="0" y2="1"><stop offset="0" stop-color="#94fad0"/><stop offset="0.55" stop-color="#70f8c0"/><stop offset="1" stop-color="#69e9b4"/></linearGradient></defs>
<path d="M440.2 523.9 L444.7 529.9 L440.2 537.3 L435.7 531.3Z" fill="#140a14" stroke="#140a14" stroke-width="3.2" stroke-linejoin="round" opacity="1.0"/><path d="M440.2 523.9 L444.7 529.9 L440.2 537.3 L435.7 531.3Z" fill="url(#dg10)" stroke="url(#dg10)" stroke-width="1.6" stroke-linejoin="round" opacity="1.0"/>
<defs><linearGradient id="dg11" x1="0" y1="0" x2="0" y2="1"><stop offset="0" stop-color="#82f888"/><stop offset="0.55" stop-color="#58f660"/><stop offset="1" stop-color="#53e75a"/></linearGradient></defs>
<path d="M453.5 520.9 L458.0 526.8 L453.5 533.9 L449.0 528.0Z" fill="#140a14" stroke="#140a14" stroke-width="3.2" stroke-linejoin="round" opacity="1.0"/><path d="M453.5 520.9 L458.0 526.8 L453.5 533.9 L449.0 528.0Z" fill="url(#dg11)" stroke="url(#dg11)" stroke-width="1.6" stroke-linejoin="round" opacity="1.0"/>
<defs><linearGradient id="dg12" x1="0" y1="0" x2="0" y2="1"><stop offset="0" stop-color="#d6fa58"/><stop offset="0.55" stop-color="#c8f820"/><stop offset="1" stop-color="#bce91e"/></linearGradient></defs>
<path d="M405.8 542.7 L410.6 549.8 L405.8 558.5 L401.0 551.4Z" fill="#140a14" stroke="#140a14" stroke-width="3.2" stroke-linejoin="round" opacity="1.0"/><path d="M405.8 542.7 L410.6 549.8 L405.8 558.5 L401.0 551.4Z" fill="url(#dg12)" stroke="url(#dg12)" stroke-width="1.6" stroke-linejoin="round" opacity="1.0"/>
<defs><linearGradient id="dg13" x1="0" y1="0" x2="0" y2="1"><stop offset="0" stop-color="#76fd59"/><stop offset="0.55" stop-color="#48fc22"/><stop offset="1" stop-color="#44ed20"/></linearGradient></defs>
<path d="M420.5 540.7 L425.3 547.7 L420.5 556.3 L415.7 549.3Z" fill="#140a14" stroke="#140a14" stroke-width="3.2" stroke-linejoin="round" opacity="1.0"/><path d="M420.5 540.7 L425.3 547.7 L420.5 556.3 L415.7 549.3Z" fill="url(#dg13)" stroke="url(#dg13)" stroke-width="1.6" stroke-linejoin="round" opacity="1.0"/>
<path d="M434.9 539.2 L439.7 546.1 L434.9 554.6 L430.1 547.7Z" fill="#140a14" stroke="#140a14" stroke-width="3.2" stroke-linejoin="round" opacity="1.0"/><path d="M434.9 539.2 L439.7 546.1 L434.9 554.6 L430.1 547.7Z" fill="url(#dg13)" stroke="url(#dg13)" stroke-width="1.6" stroke-linejoin="round" opacity="1.0"/>
<defs><linearGradient id="dg14" x1="0" y1="0" x2="0" y2="1"><stop offset="0" stop-color="#f4f44c"/><stop offset="0.55" stop-color="#f0f010"/><stop offset="1" stop-color="#e2e20f"/></linearGradient></defs>
<path d="M413.8 556.7 L418.8 564.6 L413.8 574.3 L408.8 566.4Z" fill="#140a14" stroke="#140a14" stroke-width="3.2" stroke-linejoin="round" opacity="1.0"/><path d="M413.8 556.7 L418.8 564.6 L413.8 574.3 L408.8 566.4Z" fill="url(#dg14)" stroke="url(#dg14)" stroke-width="1.6" stroke-linejoin="round" opacity="1.0"/>
<path d="M429.0 555.2 L434.0 563.0 L429.0 572.6 L424.0 564.8Z" fill="#140a14" stroke="#140a14" stroke-width="3.2" stroke-linejoin="round" opacity="1.0"/><path d="M429.0 555.2 L434.0 563.0 L429.0 572.6 L424.0 564.8Z" fill="url(#dg12)" stroke="url(#dg12)" stroke-width="1.6" stroke-linejoin="round" opacity="1.0"/>
<path d="M444.5 553.7 L449.5 561.4 L444.5 570.9 L439.5 563.2Z" fill="#140a14" stroke="#140a14" stroke-width="3.2" stroke-linejoin="round" opacity="1.0"/><path d="M444.5 553.7 L449.5 561.4 L444.5 570.9 L439.5 563.2Z" fill="url(#dg13)" stroke="url(#dg13)" stroke-width="1.6" stroke-linejoin="round" opacity="1.0"/>
<path d="M423.4 572.7 L428.7 581.6 L423.4 592.5 L418.1 583.6Z" fill="#140a14" stroke="#140a14" stroke-width="3.2" stroke-linejoin="round" opacity="1.0"/><path d="M423.4 572.7 L428.7 581.6 L423.4 592.5 L418.1 583.6Z" fill="url(#dg7)" stroke="url(#dg7)" stroke-width="1.6" stroke-linejoin="round" opacity="1.0"/>
<path d="M439.4 571.7 L444.7 580.5 L439.4 591.3 L434.1 582.5Z" fill="#140a14" stroke="#140a14" stroke-width="3.2" stroke-linejoin="round" opacity="1.0"/><path d="M439.4 571.7 L444.7 580.5 L439.4 591.3 L434.1 582.5Z" fill="url(#dg7)" stroke="url(#dg7)" stroke-width="1.6" stroke-linejoin="round" opacity="1.0"/>
<path d="M417.0 591.7 L422.6 601.8 L417.0 614.1 L411.4 604.0Z" fill="#140a14" stroke="#140a14" stroke-width="3.2" stroke-linejoin="round" opacity="1.0"/><path d="M417.0 591.7 L422.6 601.8 L417.0 614.1 L411.4 604.0Z" fill="url(#dg7)" stroke="url(#dg7)" stroke-width="1.6" stroke-linejoin="round" opacity="1.0"/>
<path d="M433.8 591.2 L439.4 601.2 L433.8 613.4 L428.2 603.4Z" fill="#140a14" stroke="#140a14" stroke-width="3.2" stroke-linejoin="round" opacity="1.0"/><path d="M433.8 591.2 L439.4 601.2 L433.8 613.4 L428.2 603.4Z" fill="url(#dg7)" stroke="url(#dg7)" stroke-width="1.6" stroke-linejoin="round" opacity="1.0"/>
<path d="M408.0 608.7 L413.9 619.8 L408.0 633.3 L402.1 622.2Z" fill="#140a14" stroke="#140a14" stroke-width="3.2" stroke-linejoin="round" opacity="1.0"/><path d="M408.0 608.7 L413.9 619.8 L408.0 633.3 L402.1 622.2Z" fill="url(#dg7)" stroke="url(#dg7)" stroke-width="1.6" stroke-linejoin="round" opacity="1.0"/>
<path d="M426.5 609.6 L432.4 620.8 L426.5 634.4 L420.6 623.2Z" fill="#140a14" stroke="#140a14" stroke-width="3.2" stroke-linejoin="round" opacity="1.0"/><path d="M426.5 609.6 L432.4 620.8 L426.5 634.4 L420.6 623.2Z" fill="url(#dg7)" stroke="url(#dg7)" stroke-width="1.6" stroke-linejoin="round" opacity="1.0"/>
<path d="M443.5 608.7 L449.4 619.8 L443.5 633.3 L437.6 622.2Z" fill="#140a14" stroke="#140a14" stroke-width="3.2" stroke-linejoin="round" opacity="1.0"/><path d="M443.5 608.7 L449.4 619.8 L443.5 633.3 L437.6 622.2Z" fill="url(#dg7)" stroke="url(#dg7)" stroke-width="1.6" stroke-linejoin="round" opacity="1.0"/>
<path d="M400.3 634.0 L406.3 646.6 L399.7 662.0 L393.7 649.4Z" fill="#140a14" stroke="#140a14" stroke-width="3.2" stroke-linejoin="round" opacity="1.0"/><path d="M400.3 634.0 L406.3 646.6 L399.7 662.0 L393.7 649.4Z" fill="url(#dg7)" stroke="url(#dg7)" stroke-width="1.6" stroke-linejoin="round" opacity="1.0"/>
<path d="M419.2 635.5 L425.5 648.2 L419.2 663.7 L412.9 651.0Z" fill="#140a14" stroke="#140a14" stroke-width="3.2" stroke-linejoin="round" opacity="1.0"/><path d="M419.2 635.5 L425.5 648.2 L419.2 663.7 L412.9 651.0Z" fill="url(#dg7)" stroke="url(#dg7)" stroke-width="1.6" stroke-linejoin="round" opacity="1.0"/>
<path d="M436.8 634.8 L443.1 647.4 L436.8 662.8 L430.5 650.2Z" fill="#140a14" stroke="#140a14" stroke-width="3.2" stroke-linejoin="round" opacity="1.0"/><path d="M436.8 634.8 L443.1 647.4 L436.8 662.8 L430.5 650.2Z" fill="url(#dg7)" stroke="url(#dg7)" stroke-width="1.6" stroke-linejoin="round" opacity="1.0"/>
<path d="M454.4 630.2 L460.6 642.6 L454.4 657.8 L448.2 645.4Z" fill="#140a14" stroke="#140a14" stroke-width="3.2" stroke-linejoin="round" opacity="1.0"/><path d="M454.4 630.2 L460.6 642.6 L454.4 657.8 L448.2 645.4Z" fill="url(#dg7)" stroke="url(#dg7)" stroke-width="1.6" stroke-linejoin="round" opacity="1.0"/>
<path d="M410.4 661.0 L417.1 675.2 L410.4 692.6 L403.7 678.4Z" fill="#140a14" stroke="#140a14" stroke-width="3.2" stroke-linejoin="round" opacity="1.0"/><path d="M410.4 661.0 L417.1 675.2 L410.4 692.6 L403.7 678.4Z" fill="url(#dg7)" stroke="url(#dg7)" stroke-width="1.6" stroke-linejoin="round" opacity="1.0"/>
<path d="M428.8 660.2 L435.5 674.4 L428.8 691.8 L422.1 677.6Z" fill="#140a14" stroke="#140a14" stroke-width="3.2" stroke-linejoin="round" opacity="1.0"/><path d="M428.8 660.2 L435.5 674.4 L428.8 691.8 L422.1 677.6Z" fill="url(#dg7)" stroke="url(#dg7)" stroke-width="1.6" stroke-linejoin="round" opacity="1.0"/>
<path d="M446.4 657.2 L453.1 671.2 L446.4 688.3 L439.7 674.4Z" fill="#140a14" stroke="#140a14" stroke-width="3.2" stroke-linejoin="round" opacity="1.0"/><path d="M446.4 657.2 L453.1 671.2 L446.4 688.3 L439.7 674.4Z" fill="url(#dg7)" stroke="url(#dg7)" stroke-width="1.6" stroke-linejoin="round" opacity="1.0"/>
<path d="M401.1 688.8 L408.0 704.6 L400.5 724.0 L393.6 708.2Z" fill="#140a14" stroke="#140a14" stroke-width="3.2" stroke-linejoin="round" opacity="1.0"/><path d="M401.1 688.8 L408.0 704.6 L400.5 724.0 L393.6 708.2Z" fill="url(#dg7)" stroke="url(#dg7)" stroke-width="1.6" stroke-linejoin="round" opacity="1.0"/>
<path d="M420.8 685.8 L427.9 701.5 L420.8 720.7 L413.7 704.9Z" fill="#140a14" stroke="#140a14" stroke-width="3.2" stroke-linejoin="round" opacity="1.0"/><path d="M420.8 685.8 L427.9 701.5 L420.8 720.7 L413.7 704.9Z" fill="url(#dg7)" stroke="url(#dg7)" stroke-width="1.6" stroke-linejoin="round" opacity="1.0"/>
<path d="M439.2 681.2 L446.2 696.7 L439.2 715.5 L432.2 700.1Z" fill="#140a14" stroke="#140a14" stroke-width="3.2" stroke-linejoin="round" opacity="1.0"/><path d="M439.2 681.2 L446.2 696.7 L439.2 715.5 L432.2 700.1Z" fill="url(#dg7)" stroke="url(#dg7)" stroke-width="1.6" stroke-linejoin="round" opacity="1.0"/>
<path d="M458.6 614.0 L461.4 620.8 L457.8 629.0 L454.9 622.2Z" fill="#140a14" stroke="#140a14" stroke-width="3.2" stroke-linejoin="round" opacity="1.0"/><path d="M458.6 614.0 L461.4 620.8 L457.8 629.0 L454.9 622.2Z" fill="url(#dg7)" stroke="url(#dg7)" stroke-width="1.6" stroke-linejoin="round" opacity="1.0"/>
<path d="M 357 731 L 362.5 716 L 367 731 Z" fill="#ffe410" stroke="#1a0f1a" stroke-width="1" stroke-linejoin="round"/>
<path d="M 384 731 L 389.5 716 L 394 731 Z" fill="#fff000" stroke="#1a0f1a" stroke-width="1" stroke-linejoin="round"/>
<path d="M 305 684 L 307.5 666 L 313 660 L 311 684 Z" fill="#ffa835" stroke="#1a0f1a" stroke-width="1" stroke-linejoin="round"/>
<path d="M301.1 532.9 L304.8 538.8 L300.1 545.9 L296.4 540.0Z" fill="#23242e" stroke="#23242e" stroke-width="3.2" stroke-linejoin="round" opacity="1.0"/><path d="M301.1 532.9 L304.8 538.8 L300.1 545.9 L296.4 540.0Z" fill="#0b0b10" stroke="#0b0b10" stroke-width="1.6" stroke-linejoin="round" opacity="1.0"/>
<path d="M309.3 569.1 L313.3 576.9 L307.9 586.5 L303.9 578.7Z" fill="#23242e" stroke="#23242e" stroke-width="3.2" stroke-linejoin="round" opacity="1.0"/><path d="M309.3 569.1 L313.3 576.9 L307.9 586.5 L303.9 578.7Z" fill="#0b0b10" stroke="#0b0b10" stroke-width="1.6" stroke-linejoin="round" opacity="1.0"/>
<path d="M313.4 589.5 L317.6 598.4 L311.8 609.3 L307.6 600.4Z" fill="#23242e" stroke="#23242e" stroke-width="3.2" stroke-linejoin="round" opacity="1.0"/><path d="M313.4 589.5 L317.6 598.4 L311.8 609.3 L307.6 600.4Z" fill="#0b0b10" stroke="#0b0b10" stroke-width="1.6" stroke-linejoin="round" opacity="1.0"/>
<path d="M317.8 681.5 L322.9 695.3 L315.4 712.1 L310.3 698.3Z" fill="#23242e" stroke="#23242e" stroke-width="3.2" stroke-linejoin="round" opacity="1.0"/><path d="M317.8 681.5 L322.9 695.3 L315.4 712.1 L310.3 698.3Z" fill="#0b0b10" stroke="#0b0b10" stroke-width="1.6" stroke-linejoin="round" opacity="1.0"/>
<path d="M329.0 666.4 L333.9 679.4 L326.6 695.2 L321.7 682.2Z" fill="#23242e" stroke="#23242e" stroke-width="3.2" stroke-linejoin="round" opacity="1.0"/><path d="M329.0 666.4 L333.9 679.4 L326.6 695.2 L321.7 682.2Z" fill="#0b0b10" stroke="#0b0b10" stroke-width="1.6" stroke-linejoin="round" opacity="1.0"/>
<path d="M451.1 537.4 L454.9 543.5 L450.1 551.0 L446.3 544.9Z" fill="#23242e" stroke="#23242e" stroke-width="3.2" stroke-linejoin="round" opacity="1.0"/><path d="M451.1 537.4 L454.9 543.5 L450.1 551.0 L446.3 544.9Z" fill="#0b0b10" stroke="#0b0b10" stroke-width="1.6" stroke-linejoin="round" opacity="1.0"/>
<path d="M456.1 569.1 L460.1 576.9 L454.7 586.5 L450.7 578.7Z" fill="#23242e" stroke="#23242e" stroke-width="3.2" stroke-linejoin="round" opacity="1.0"/><path d="M456.1 569.1 L460.1 576.9 L454.7 586.5 L450.7 578.7Z" fill="#0b0b10" stroke="#0b0b10" stroke-width="1.6" stroke-linejoin="round" opacity="1.0"/>
<path d="M452.2 589.5 L456.4 598.4 L450.6 609.3 L446.4 600.4Z" fill="#23242e" stroke="#23242e" stroke-width="3.2" stroke-linejoin="round" opacity="1.0"/><path d="M452.2 589.5 L456.4 598.4 L450.6 609.3 L446.4 600.4Z" fill="#0b0b10" stroke="#0b0b10" stroke-width="1.6" stroke-linejoin="round" opacity="1.0"/>
<path d="M465.9 646.7 L470.6 658.7 L463.7 673.3 L459.0 661.3Z" fill="#23242e" stroke="#23242e" stroke-width="3.2" stroke-linejoin="round" opacity="1.0"/><path d="M465.9 646.7 L470.6 658.7 L463.7 673.3 L459.0 661.3Z" fill="#0b0b10" stroke="#0b0b10" stroke-width="1.6" stroke-linejoin="round" opacity="1.0"/>
<path d="M456.4 669.4 L461.3 682.5 L454.0 698.6 L449.1 685.5Z" fill="#23242e" stroke="#23242e" stroke-width="3.2" stroke-linejoin="round" opacity="1.0"/><path d="M456.4 669.4 L461.3 682.5 L454.0 698.6 L449.1 685.5Z" fill="#0b0b10" stroke="#0b0b10" stroke-width="1.6" stroke-linejoin="round" opacity="1.0"/>
<path d="M323.6 480.2 L326.4 484.5 L322.8 489.8 L319.9 485.5Z" fill="#222230" stroke="#222230" stroke-width="3.2" stroke-linejoin="round" opacity="1.0"/><path d="M323.6 480.2 L326.4 484.5 L322.8 489.8 L319.9 485.5Z" fill="#a468f2" stroke="#a468f2" stroke-width="1.6" stroke-linejoin="round" opacity="1.0"/>
<path d="M336.8 482.4 L339.6 486.7 L336.0 491.9 L333.1 487.7Z" fill="#222230" stroke="#222230" stroke-width="3.2" stroke-linejoin="round" opacity="1.0"/><path d="M336.8 482.4 L339.6 486.7 L336.0 491.9 L333.1 487.7Z" fill="#9e62f4" stroke="#9e62f4" stroke-width="1.6" stroke-linejoin="round" opacity="1.0"/>
<path d="M343.7 473.2 L346.6 477.5 L342.9 482.8 L340.1 478.5Z" fill="#222230" stroke="#222230" stroke-width="3.2" stroke-linejoin="round" opacity="1.0"/><path d="M343.7 473.2 L346.6 477.5 L342.9 482.8 L340.1 478.5Z" fill="#9a5ef4" stroke="#9a5ef4" stroke-width="1.6" stroke-linejoin="round" opacity="1.0"/>
<path d="M350.0 484.8 L352.9 489.0 L349.2 494.2 L346.4 490.0Z" fill="#222230" stroke="#222230" stroke-width="3.2" stroke-linejoin="round" opacity="1.0"/><path d="M350.0 484.8 L352.9 489.0 L349.2 494.2 L346.4 490.0Z" fill="#a066f4" stroke="#a066f4" stroke-width="1.6" stroke-linejoin="round" opacity="1.0"/>
<path d="M421.5 472.2 L424.4 476.5 L420.7 481.8 L417.9 477.5Z" fill="#222230" stroke="#222230" stroke-width="3.2" stroke-linejoin="round" opacity="1.0"/><path d="M421.5 472.2 L424.4 476.5 L420.7 481.8 L417.9 477.5Z" fill="#9cf0f0" stroke="#9cf0f0" stroke-width="1.6" stroke-linejoin="round" opacity="1.0"/>
<path d="M416.6 484.2 L419.4 488.5 L415.8 493.8 L412.9 489.5Z" fill="#222230" stroke="#222230" stroke-width="3.2" stroke-linejoin="round" opacity="1.0"/><path d="M416.6 484.2 L419.4 488.5 L415.8 493.8 L412.9 489.5Z" fill="#9ae8f0" stroke="#9ae8f0" stroke-width="1.6" stroke-linejoin="round" opacity="1.0"/>
<path d="M428.9 482.2 L431.8 486.5 L428.1 491.8 L425.2 487.5Z" fill="#222230" stroke="#222230" stroke-width="3.2" stroke-linejoin="round" opacity="1.0"/><path d="M428.9 482.2 L431.8 486.5 L428.1 491.8 L425.2 487.5Z" fill="#a0f0f0" stroke="#a0f0f0" stroke-width="1.6" stroke-linejoin="round" opacity="1.0"/>
<path d="M441.5 480.2 L444.4 484.5 L440.7 489.8 L437.9 485.5Z" fill="#222230" stroke="#222230" stroke-width="3.2" stroke-linejoin="round" opacity="1.0"/><path d="M441.5 480.2 L444.4 484.5 L440.7 489.8 L437.9 485.5Z" fill="#9cf0ee" stroke="#9cf0ee" stroke-width="1.6" stroke-linejoin="round" opacity="1.0"/>
<path d="M377.1 518.5 L379.9 523.0 L376.3 528.5 L373.4 524.0Z" fill="#101018" stroke="#101018" stroke-width="3.2" stroke-linejoin="round" opacity="1.0"/><path d="M377.1 518.5 L379.9 523.0 L376.3 528.5 L373.4 524.0Z" fill="#c8b8f4" stroke="#c8b8f4" stroke-width="1.6" stroke-linejoin="round" opacity="1.0"/>
<path d="M391.4 518.5 L394.2 523.0 L390.6 528.5 L387.8 524.0Z" fill="#101018" stroke="#101018" stroke-width="3.2" stroke-linejoin="round" opacity="1.0"/><path d="M391.4 518.5 L394.2 523.0 L390.6 528.5 L387.8 524.0Z" fill="#c0eaf8" stroke="#c0eaf8" stroke-width="1.6" stroke-linejoin="round" opacity="1.0"/>
<path d="M255.9 580.9 L258.2 585.1 L255.1 590.4 L252.8 586.1Z" fill="#281a26" stroke="#281a26" stroke-width="2.2" stroke-linejoin="round" opacity="1.0"/><path d="M255.9 580.9 L258.2 585.1 L255.1 590.4 L252.8 586.1Z" fill="#140c14" stroke="#140c14" stroke-width="0.6" stroke-linejoin="round" opacity="1.0"/>
<path d="M257.8 604.6 L260.2 609.1 L257.0 614.6 L254.6 610.1Z" fill="#281a26" stroke="#281a26" stroke-width="2.2" stroke-linejoin="round" opacity="1.0"/><path d="M257.8 604.6 L260.2 609.1 L257.0 614.6 L254.6 610.1Z" fill="#140c14" stroke="#140c14" stroke-width="0.6" stroke-linejoin="round" opacity="1.0"/>
<path d="M253.4 620.2 L256.4 625.8 L252.4 632.6 L249.4 627.0Z" fill="#281a26" stroke="#281a26" stroke-width="2.2" stroke-linejoin="round" opacity="1.0"/><path d="M253.4 620.2 L256.4 625.8 L252.4 632.6 L249.4 627.0Z" fill="#140c14" stroke="#140c14" stroke-width="0.6" stroke-linejoin="round" opacity="1.0"/>
<path d="M260.1 571.2 L262.1 574.8 L259.5 579.2 L257.5 575.6Z" fill="#281a26" stroke="#281a26" stroke-width="2.2" stroke-linejoin="round" opacity="1.0"/><path d="M260.1 571.2 L262.1 574.8 L259.5 579.2 L257.5 575.6Z" fill="#140c14" stroke="#140c14" stroke-width="0.6" stroke-linejoin="round" opacity="1.0"/>
<path d="M261.0 592.3 L263.2 596.3 L260.2 601.3 L258.0 597.3Z" fill="#281a26" stroke="#281a26" stroke-width="2.2" stroke-linejoin="round" opacity="1.0"/><path d="M261.0 592.3 L263.2 596.3 L260.2 601.3 L258.0 597.3Z" fill="#140c14" stroke="#140c14" stroke-width="0.6" stroke-linejoin="round" opacity="1.0"/>
<path d="M265.0 616.6 L267.4 621.1 L264.2 626.6 L261.8 622.1Z" fill="#281a26" stroke="#281a26" stroke-width="2.2" stroke-linejoin="round" opacity="1.0"/><path d="M265.0 616.6 L267.4 621.1 L264.2 626.6 L261.8 622.1Z" fill="#140c14" stroke="#140c14" stroke-width="0.6" stroke-linejoin="round" opacity="1.0"/>
<path d="M265.0 635.6 L267.6 640.3 L264.2 646.0 L261.6 641.3Z" fill="#281a26" stroke="#281a26" stroke-width="2.2" stroke-linejoin="round" opacity="1.0"/><path d="M265.0 635.6 L267.6 640.3 L264.2 646.0 L261.6 641.3Z" fill="#140c14" stroke="#140c14" stroke-width="0.6" stroke-linejoin="round" opacity="1.0"/>
<path d="M263.8 560.4 L265.5 563.6 L263.2 567.6 L261.5 564.4Z" fill="#281a26" stroke="#281a26" stroke-width="2.2" stroke-linejoin="round" opacity="1.0"/><path d="M263.8 560.4 L265.5 563.6 L263.2 567.6 L261.5 564.4Z" fill="#140c14" stroke="#140c14" stroke-width="0.6" stroke-linejoin="round" opacity="1.0"/>
<path d="M264.9 581.6 L266.9 585.2 L264.3 589.6 L262.3 586.0Z" fill="#281a26" stroke="#281a26" stroke-width="2.2" stroke-linejoin="round" opacity="1.0"/><path d="M264.9 581.6 L266.9 585.2 L264.3 589.6 L262.3 586.0Z" fill="#140c14" stroke="#140c14" stroke-width="0.6" stroke-linejoin="round" opacity="1.0"/>
<path d="M266.6 602.7 L268.8 606.7 L265.8 611.7 L263.6 607.7Z" fill="#281a26" stroke="#281a26" stroke-width="2.2" stroke-linejoin="round" opacity="1.0"/><path d="M266.6 602.7 L268.8 606.7 L265.8 611.7 L263.6 607.7Z" fill="#140c14" stroke="#140c14" stroke-width="0.6" stroke-linejoin="round" opacity="1.0"/>
<path d="M271.4 629.4 L273.8 633.9 L270.6 639.4 L268.2 634.9Z" fill="#281a26" stroke="#281a26" stroke-width="2.2" stroke-linejoin="round" opacity="1.0"/><path d="M271.4 629.4 L273.8 633.9 L270.6 639.4 L268.2 634.9Z" fill="#140c14" stroke="#140c14" stroke-width="0.6" stroke-linejoin="round" opacity="1.0"/>
<path d="M268.0 557.9 L269.4 560.5 L267.6 563.6 L266.2 561.1Z" fill="#281a26" stroke="#281a26" stroke-width="2.2" stroke-linejoin="round" opacity="1.0"/><path d="M268.0 557.9 L269.4 560.5 L267.6 563.6 L266.2 561.1Z" fill="#140c14" stroke="#140c14" stroke-width="0.6" stroke-linejoin="round" opacity="1.0"/>
<path d="M268.1 576.7 L269.7 579.7 L267.5 583.3 L265.9 580.3Z" fill="#281a26" stroke="#281a26" stroke-width="2.2" stroke-linejoin="round" opacity="1.0"/><path d="M268.1 576.7 L269.7 579.7 L267.5 583.3 L265.9 580.3Z" fill="#140c14" stroke="#140c14" stroke-width="0.6" stroke-linejoin="round" opacity="1.0"/>
<path d="M270.2 595.4 L272.1 598.8 L269.6 603.0 L267.7 599.6Z" fill="#281a26" stroke="#281a26" stroke-width="2.2" stroke-linejoin="round" opacity="1.0"/><path d="M270.2 595.4 L272.1 598.8 L269.6 603.0 L267.7 599.6Z" fill="#140c14" stroke="#140c14" stroke-width="0.6" stroke-linejoin="round" opacity="1.0"/>
<path d="M271.8 611.2 L273.8 614.8 L271.2 619.2 L269.2 615.6Z" fill="#281a26" stroke="#281a26" stroke-width="2.2" stroke-linejoin="round" opacity="1.0"/><path d="M271.8 611.2 L273.8 614.8 L271.2 619.2 L269.2 615.6Z" fill="#140c14" stroke="#140c14" stroke-width="0.6" stroke-linejoin="round" opacity="1.0"/>
<path d="M277.3 631.7 L279.4 635.6 L276.7 640.3 L274.6 636.4Z" fill="#281a26" stroke="#281a26" stroke-width="2.2" stroke-linejoin="round" opacity="1.0"/><path d="M277.3 631.7 L279.4 635.6 L276.7 640.3 L274.6 636.4Z" fill="#140c14" stroke="#140c14" stroke-width="0.6" stroke-linejoin="round" opacity="1.0"/>
<path d="M277.7 646.7 L279.8 650.6 L277.1 655.3 L275.0 651.4Z" fill="#281a26" stroke="#281a26" stroke-width="2.2" stroke-linejoin="round" opacity="1.0"/><path d="M277.7 646.7 L279.8 650.6 L277.1 655.3 L275.0 651.4Z" fill="#140c14" stroke="#140c14" stroke-width="0.6" stroke-linejoin="round" opacity="1.0"/>
<path d="M483.3 552.5 L484.8 555.6 L482.7 559.5 L481.2 556.4Z" fill="#22242f" stroke="#22242f" stroke-width="3.2" stroke-linejoin="round" opacity="1.0"/><path d="M483.3 552.5 L484.8 555.6 L482.7 559.5 L481.2 556.4Z" fill="#0e0e14" stroke="#0e0e14" stroke-width="1.6" stroke-linejoin="round" opacity="1.0"/>
<path d="M488.3 564.5 L489.8 567.6 L487.7 571.5 L486.2 568.4Z" fill="#22242f" stroke="#22242f" stroke-width="3.2" stroke-linejoin="round" opacity="1.0"/><path d="M488.3 564.5 L489.8 567.6 L487.7 571.5 L486.2 568.4Z" fill="#0e0e14" stroke="#0e0e14" stroke-width="1.6" stroke-linejoin="round" opacity="1.0"/>
<path d="M482.3 571.5 L483.8 574.6 L481.7 578.5 L480.2 575.4Z" fill="#22242f" stroke="#22242f" stroke-width="3.2" stroke-linejoin="round" opacity="1.0"/><path d="M482.3 571.5 L483.8 574.6 L481.7 578.5 L480.2 575.4Z" fill="#0e0e14" stroke="#0e0e14" stroke-width="1.6" stroke-linejoin="round" opacity="1.0"/>
<path d="M489.3 584.5 L490.8 587.6 L488.7 591.5 L487.2 588.4Z" fill="#22242f" stroke="#22242f" stroke-width="3.2" stroke-linejoin="round" opacity="1.0"/><path d="M489.3 584.5 L490.8 587.6 L488.7 591.5 L487.2 588.4Z" fill="#0e0e14" stroke="#0e0e14" stroke-width="1.6" stroke-linejoin="round" opacity="1.0"/>
<path d="M483.3 591.5 L484.8 594.6 L482.7 598.5 L481.2 595.4Z" fill="#22242f" stroke="#22242f" stroke-width="3.2" stroke-linejoin="round" opacity="1.0"/><path d="M483.3 591.5 L484.8 594.6 L482.7 598.5 L481.2 595.4Z" fill="#0e0e14" stroke="#0e0e14" stroke-width="1.6" stroke-linejoin="round" opacity="1.0"/>
<path d="M490.3 603.5 L491.8 606.6 L489.7 610.5 L488.2 607.4Z" fill="#22242f" stroke="#22242f" stroke-width="3.2" stroke-linejoin="round" opacity="1.0"/><path d="M490.3 603.5 L491.8 606.6 L489.7 610.5 L488.2 607.4Z" fill="#0e0e14" stroke="#0e0e14" stroke-width="1.6" stroke-linejoin="round" opacity="1.0"/>
<path d="M484.3 610.5 L485.8 613.6 L483.7 617.5 L482.2 614.4Z" fill="#22242f" stroke="#22242f" stroke-width="3.2" stroke-linejoin="round" opacity="1.0"/><path d="M484.3 610.5 L485.8 613.6 L483.7 617.5 L482.2 614.4Z" fill="#0e0e14" stroke="#0e0e14" stroke-width="1.6" stroke-linejoin="round" opacity="1.0"/>
<path d="M489.3 622.5 L490.8 625.6 L488.7 629.5 L487.2 626.4Z" fill="#22242f" stroke="#22242f" stroke-width="3.2" stroke-linejoin="round" opacity="1.0"/><path d="M489.3 622.5 L490.8 625.6 L488.7 629.5 L487.2 626.4Z" fill="#0e0e14" stroke="#0e0e14" stroke-width="1.6" stroke-linejoin="round" opacity="1.0"/>
<path d="M486.3 633.5 L487.8 636.6 L485.7 640.5 L484.2 637.4Z" fill="#22242f" stroke="#22242f" stroke-width="3.2" stroke-linejoin="round" opacity="1.0"/><path d="M486.3 633.5 L487.8 636.6 L485.7 640.5 L484.2 637.4Z" fill="#0e0e14" stroke="#0e0e14" stroke-width="1.6" stroke-linejoin="round" opacity="1.0"/>
<path d="M478.3 584.5 L479.8 587.6 L477.7 591.5 L476.2 588.4Z" fill="#22242f" stroke="#22242f" stroke-width="3.2" stroke-linejoin="round" opacity="1.0"/><path d="M478.3 584.5 L479.8 587.6 L477.7 591.5 L476.2 588.4Z" fill="#0e0e14" stroke="#0e0e14" stroke-width="1.6" stroke-linejoin="round" opacity="1.0"/>
<path d="M479.3 604.5 L480.8 607.6 L478.7 611.5 L477.2 608.4Z" fill="#22242f" stroke="#22242f" stroke-width="3.2" stroke-linejoin="round" opacity="1.0"/><path d="M479.3 604.5 L480.8 607.6 L478.7 611.5 L477.2 608.4Z" fill="#0e0e14" stroke="#0e0e14" stroke-width="1.6" stroke-linejoin="round" opacity="1.0"/>
<path d="M478.3 624.5 L479.8 627.6 L477.7 631.5 L476.2 628.4Z" fill="#22242f" stroke="#22242f" stroke-width="3.2" stroke-linejoin="round" opacity="1.0"/><path d="M478.3 624.5 L479.8 627.6 L477.7 631.5 L476.2 628.4Z" fill="#0e0e14" stroke="#0e0e14" stroke-width="1.6" stroke-linejoin="round" opacity="1.0"/>
<path d="M 269 345 C 267 380, 265 405, 265.5 425 C 266 450, 268 480, 271 505 C 275 540, 283 585, 289.3 620 C 293 640, 292.5 660, 290.7 673 C 289 685, 285 694, 280 700" fill="none" stroke="url(#gInL)" stroke-width="7.5" opacity="0.35" filter="url(#blur1)"/>
<path d="M 269 345 C 267 380, 265 405, 265.5 425 C 266 450, 268 480, 271 505 C 275 540, 283 585, 289.3 620 C 293 640, 292.5 660, 290.7 673 C 289 685, 285 694, 280 700" fill="none" stroke="url(#gInL)" stroke-width="5.2" stroke-linecap="round"/>
<path d="M 269 345 C 267 380, 265 405, 265.5 425 C 266 450, 268 480, 271 505 C 275 540, 283 585, 289.3 620 C 293 640, 292.5 660, 290.7 673 C 289 685, 285 694, 280 700" fill="none" stroke="#fff" stroke-width="2.2" opacity="0.6" stroke-linecap="round"/>
<path d="M 471.5 376 C 472.5 410, 473.5 440, 473 470 C 472 510, 470.5 540, 471.2 570 C 472 610, 478 640, 486 666" fill="none" stroke="url(#gInR)" stroke-width="7.5" opacity="0.35" filter="url(#blur1)"/>
<path d="M 471.5 376 C 472.5 410, 473.5 440, 473 470 C 472 510, 470.5 540, 471.2 570 C 472 610, 478 640, 486 666" fill="none" stroke="url(#gInR)" stroke-width="5.2" stroke-linecap="round"/>
<path d="M 471.5 376 C 472.5 410, 473.5 440, 473 470 C 472 510, 470.5 540, 471.2 570 C 472 610, 478 640, 486 666" fill="none" stroke="#fff" stroke-width="2.2" opacity="0.6" stroke-linecap="round"/>
<path d="M 264 446 C 255 460, 246 482, 240 497 C 228 525, 219 560, 218.5 595 C 218 625, 222 645, 236 662" fill="none" stroke="url(#gRim)" stroke-width="3.4" stroke-linecap="round"/>
<path d="M 236 662 C 245.5 673.5, 257 684, 268 693" fill="none" stroke="url(#gRim)" stroke-width="5.0" stroke-linecap="round"/>
<path d="M 268 693 C 279 701, 290 710, 300 716 C 320 728, 350 742, 379 745 C 395 746, 410 746, 424 741" fill="none" stroke="url(#gRim)" stroke-width="6.8" stroke-linecap="round"/>
<path d="M 424 741 C 445 727, 462 709, 474 690" fill="none" stroke="url(#gRim)" stroke-width="5.5" stroke-linecap="round"/>
<path d="M 474 690 C 479 682, 483 674, 485 667 C 492 648, 495.5 625, 495.3 596" fill="none" stroke="url(#gRim)" stroke-width="3.0" stroke-linecap="round"/>
<path d="M 264 446 C 255 460, 246 482, 240 497 C 228 525, 219 560, 218.5 595 C 218 625, 222 645, 236 662 C 255 685, 280 704, 300 716 C 320 728, 350 742, 379 745 C 395 746, 410 746, 424 741 C 455 720, 478 690, 485 667 C 492 648, 495.5 625, 495.3 596" fill="none" stroke="#fff" stroke-width="1.3" opacity="0.35"/>
<path d="M 264 446 C 255 460, 246 482, 240 497 C 228 525, 219 560, 218.5 595 C 218 625, 222 645, 236 662" fill="none" stroke="#fff" stroke-width="1.4" opacity="0.45"/>
<path d="M 269 346 L 287.5 357 Q 289.5 358.5, 289.5 361 L 289.5 424 Q 289.5 427, 287 428.5 L 270 436 Q 268 436.5, 268 434 L 268 348 Q 268 345.5, 269 346 Z" fill="#0c0c10" stroke="#9a5cf0" stroke-width="1.6"/>
<path d="M 270.5 352 L 277 355.5 L 277.5 429.5 L 270.5 432.5 Z" fill="#9ca8cc"/>
<path d="M 277 355.5 L 278.6 356.5 L 279.2 428.8 L 277.5 429.5 Z" fill="#e6ecfa" opacity="0.85"/>
<path d="M 359 313 L 393 313 L 393 425 Q 393 432, 386 432 L 366 432 Q 359 432, 359 425 Z" fill="#0e0f14"/>
<rect x="360" y="313.5" width="24" height="40" fill="#9aa2c0"/>
<rect x="360" y="313.5" width="24" height="3" fill="#b4bbd6"/>
<rect x="360" y="340" width="24" height="14" fill="#8088a8" opacity="0.5"/>
<defs><linearGradient id="gWheel" x1="0" y1="353" x2="0" y2="428" gradientUnits="userSpaceOnUse"><stop offset="0" stop-color="#30333f"/><stop offset="0.5" stop-color="#1d1e26"/><stop offset="1" stop-color="#0c0c10"/></linearGradient><linearGradient id="gBandL" x1="0" y1="356" x2="0" y2="426" gradientUnits="userSpaceOnUse"><stop offset="0" stop-color="#d03880"/><stop offset="0.2" stop-color="#f080e0"/><stop offset="0.55" stop-color="#e890f8"/><stop offset="0.8" stop-color="#9a50f8"/><stop offset="1" stop-color="#5a30e0"/></linearGradient><linearGradient id="gBandR" x1="0" y1="356" x2="0" y2="426" gradientUnits="userSpaceOnUse"><stop offset="0" stop-color="#e02040"/><stop offset="0.2" stop-color="#f060a0"/><stop offset="0.55" stop-color="#f0a0f0"/><stop offset="0.8" stop-color="#b060f8"/><stop offset="1" stop-color="#6a30e0"/></linearGradient></defs>
<rect x="363.4" y="353.4" width="33.6" height="74.4" rx="6" fill="#101016"/>
<rect x="371" y="356" width="19" height="70" fill="url(#gWheel)"/>
<path d="M 367.6 359 Q 366 390, 368 423" fill="none" stroke="url(#gBandL)" stroke-width="6.5" stroke-linecap="round"/>
<path d="M 368 362 Q 366.8 390, 368.6 418" fill="none" stroke="#fff0ff" stroke-width="2" opacity="0.75"/>
<path d="M 393.6 359 Q 395.2 390, 393.2 423" fill="none" stroke="url(#gBandR)" stroke-width="6.5" stroke-linecap="round"/>
<path d="M 393.4 364 Q 394.4 390, 392.8 418" fill="none" stroke="#ffe8ff" stroke-width="1.8" opacity="0.7"/>
<path d="M 366 359 Q 367 354.5, 372 354.2 L 389 354.2 Q 394 354.5, 395 359" fill="none" stroke="#3050e0" stroke-width="2.2" opacity="0.85"/>
<path d="M 367 422 Q 368.5 427.5, 373 427.8 L 388 427.8 Q 392.5 427.5, 394 422" fill="none" stroke="#7040e8" stroke-width="2.2" opacity="0.9"/>
<circle cx="374" cy="363" r="0.75" fill="#07070a"/>
<circle cx="378" cy="363" r="0.75" fill="#07070a"/>
<circle cx="382" cy="363" r="0.75" fill="#07070a"/>
<circle cx="386" cy="363" r="0.75" fill="#07070a"/>
<circle cx="376" cy="367" r="0.75" fill="#07070a"/>
<circle cx="380" cy="367" r="0.75" fill="#07070a"/>
<circle cx="384" cy="367" r="0.75" fill="#07070a"/>
<circle cx="388" cy="367" r="0.75" fill="#07070a"/>
<circle cx="374" cy="371" r="0.75" fill="#07070a"/>
<circle cx="378" cy="371" r="0.75" fill="#07070a"/>
<circle cx="382" cy="371" r="0.75" fill="#07070a"/>
<circle cx="386" cy="371" r="0.75" fill="#07070a"/>
<circle cx="376" cy="375" r="0.75" fill="#07070a"/>
<circle cx="380" cy="375" r="0.75" fill="#07070a"/>
<circle cx="384" cy="375" r="0.75" fill="#07070a"/>
<circle cx="388" cy="375" r="0.75" fill="#07070a"/>
<circle cx="374" cy="379" r="0.75" fill="#07070a"/>
<circle cx="378" cy="379" r="0.75" fill="#07070a"/>
<circle cx="382" cy="379" r="0.75" fill="#07070a"/>
<circle cx="386" cy="379" r="0.75" fill="#07070a"/>
<circle cx="376" cy="383" r="0.75" fill="#07070a"/>
<circle cx="380" cy="383" r="0.75" fill="#07070a"/>
<circle cx="384" cy="383" r="0.75" fill="#07070a"/>
<circle cx="388" cy="383" r="0.75" fill="#07070a"/>
<circle cx="374" cy="387" r="0.75" fill="#07070a"/>
<circle cx="378" cy="387" r="0.75" fill="#07070a"/>
<circle cx="382" cy="387" r="0.75" fill="#07070a"/>
<circle cx="386" cy="387" r="0.75" fill="#07070a"/>
<circle cx="376" cy="391" r="0.75" fill="#07070a"/>
<circle cx="380" cy="391" r="0.75" fill="#07070a"/>
<circle cx="384" cy="391" r="0.75" fill="#07070a"/>
<circle cx="388" cy="391" r="0.75" fill="#07070a"/>
<circle cx="374" cy="395" r="0.75" fill="#07070a"/>
<circle cx="378" cy="395" r="0.75" fill="#07070a"/>
<circle cx="382" cy="395" r="0.75" fill="#07070a"/>
<circle cx="386" cy="395" r="0.75" fill="#07070a"/>
<circle cx="376" cy="399" r="0.75" fill="#07070a"/>
<circle cx="380" cy="399" r="0.75" fill="#07070a"/>
<circle cx="384" cy="399" r="0.75" fill="#07070a"/>
<circle cx="388" cy="399" r="0.75" fill="#07070a"/>
<circle cx="374" cy="403" r="0.75" fill="#07070a"/>
<circle cx="378" cy="403" r="0.75" fill="#07070a"/>
<circle cx="382" cy="403" r="0.75" fill="#07070a"/>
<circle cx="386" cy="403" r="0.75" fill="#07070a"/>
<circle cx="376" cy="407" r="0.75" fill="#07070a"/>
<circle cx="380" cy="407" r="0.75" fill="#07070a"/>
<circle cx="384" cy="407" r="0.75" fill="#07070a"/>
<circle cx="388" cy="407" r="0.75" fill="#07070a"/>
<circle cx="374" cy="411" r="0.75" fill="#07070a"/>
<circle cx="378" cy="411" r="0.75" fill="#07070a"/>
<circle cx="382" cy="411" r="0.75" fill="#07070a"/>
<circle cx="386" cy="411" r="0.75" fill="#07070a"/>
<circle cx="376" cy="415" r="0.75" fill="#07070a"/>
<circle cx="380" cy="415" r="0.75" fill="#07070a"/>
<circle cx="384" cy="415" r="0.75" fill="#07070a"/>
<circle cx="388" cy="415" r="0.75" fill="#07070a"/>
<circle cx="374" cy="419" r="0.75" fill="#07070a"/>
<circle cx="378" cy="419" r="0.75" fill="#07070a"/>
<circle cx="382" cy="419" r="0.75" fill="#07070a"/>
<circle cx="386" cy="419" r="0.75" fill="#07070a"/>
<circle cx="376" cy="423" r="0.75" fill="#07070a"/>
<circle cx="380" cy="423" r="0.75" fill="#07070a"/>
<circle cx="384" cy="423" r="0.75" fill="#07070a"/>
<circle cx="388" cy="423" r="0.75" fill="#07070a"/>
<ellipse cx="381.3" cy="430.5" rx="1.6" ry="1.2" fill="#e8ecf8" opacity="0.85"/>
<rect x="364.3" y="272" width="11" height="41.5" fill="#0b0b0d"/>
<rect x="365" y="276" width="9.5" height="1" fill="#222226" opacity="0.7"/>
<rect x="365" y="280" width="9.5" height="1" fill="#222226" opacity="0.7"/>
<rect x="365" y="284" width="9.5" height="1" fill="#222226" opacity="0.7"/>
<rect x="365" y="288" width="9.5" height="1" fill="#222226" opacity="0.7"/>
<rect x="365" y="292" width="9.5" height="1" fill="#222226" opacity="0.7"/>
<rect x="365" y="296" width="9.5" height="1" fill="#222226" opacity="0.7"/>
<rect x="365" y="300" width="9.5" height="1" fill="#222226" opacity="0.7"/>
<rect x="365" y="304" width="9.5" height="1" fill="#222226" opacity="0.7"/>
<rect x="365" y="308" width="9.5" height="1" fill="#222226" opacity="0.7"/>
<rect x="365" y="312" width="9.5" height="1" fill="#222226" opacity="0.7"/>
<path d="M 358.7 313 C 358 303, 360 296, 364 294 M 378.5 294.5 C 382 297, 384 305, 383.3 313" fill="none" stroke="#0d0d10" stroke-width="1.6"/>
<rect x="367" y="452" width="30.5" height="32" rx="6" fill="#0e0e14" stroke="#5548c8" stroke-width="1.8"/>
<rect x="367.8" y="452.8" width="29" height="30.4" rx="5.5" fill="none" stroke="#8a80f0" stroke-width="0.6" opacity="0.7"/>
<path d="M 371.5 480.5 L 378 474 L 386 472 L 393.5 462 L 394 480.5 Z" fill="#8d93ad"/>
<path d="M 378 474 L 393.5 458" stroke="#d0d4e4" stroke-width="1.2"/>
<rect x="370" y="455" width="24.5" height="26" rx="3" fill="none" stroke="#2a2a38" stroke-width="1"/>
<circle cx="376.8" cy="461.5" r="1.1" fill="#6a6c84"/>
<circle cx="382.4" cy="461.5" r="1.1" fill="#6a6c84"/>
<circle cx="388" cy="461.5" r="1.1" fill="#6a6c84"/>
<circle cx="377" cy="467.5" r="1.1" fill="#6a6c84"/>
<circle cx="382.6" cy="467.5" r="1.1" fill="#6a6c84"/>
<circle cx="378" cy="477" r="1.1" fill="#2a2c3a"/>
<circle cx="383.5" cy="476.5" r="1.1" fill="#2a2c3a"/></g>
<line x1="190" y1="355" x2="314.5" y2="355.3" stroke="#1266f1" stroke-width="3"/><circle cx="314.5" cy="355.3" r="3.7" fill="#1266f1"/><circle cx="170" cy="353.5" r="23" fill="url(#halo)"/><circle cx="170" cy="353.5" r="20.6" fill="#fff"/><circle cx="170" cy="353.5" r="17.2" fill="#1266f1"/><path d="M 166.7 348.3 L 170.3 345.3 L 172.6 345.3 L 172.6 362.0 L 170.2 362.0 L 170.2 348.5 L 166.7 351.1 Z" fill="#fff"/><line x1="377.7" y1="273" x2="377.7" y2="355" stroke="#1266f1" stroke-width="3"/><circle cx="377.7" cy="355" r="3.7" fill="#1266f1"/><circle cx="377.8" cy="254" r="23" fill="url(#halo)"/><circle cx="377.8" cy="254" r="20.6" fill="#fff"/><circle cx="377.8" cy="254" r="17.2" fill="#1266f1"/><text x="377.8" y="262.3" text-anchor="middle" class="bn" fill="#fff" stroke="#fff" stroke-width="0.45">2</text><line x1="506" y1="354.5" x2="438" y2="355.2" stroke="#1266f1" stroke-width="3"/><circle cx="438" cy="355.2" r="3.7" fill="#1266f1"/><circle cx="526.5" cy="352.8" r="23" fill="url(#halo)"/><circle cx="526.5" cy="352.8" r="20.6" fill="#fff"/><circle cx="526.5" cy="352.8" r="17.2" fill="#1266f1"/><text x="526.5" y="361.1" text-anchor="middle" class="bn" fill="#fff" stroke="#fff" stroke-width="0.45">3</text><line x1="190" y1="413" x2="280" y2="413" stroke="#1266f1" stroke-width="3"/><circle cx="280" cy="413" r="3.7" fill="#1266f1"/><circle cx="170" cy="413.5" r="23" fill="url(#halo)"/><circle cx="170" cy="413.5" r="20.6" fill="#fff"/><circle cx="170" cy="413.5" r="17.2" fill="#1266f1"/><text x="170" y="421.8" text-anchor="middle" class="bn" fill="#fff" stroke="#fff" stroke-width="0.45">4</text><line x1="190" y1="469.5" x2="266" y2="469.5" stroke="#1266f1" stroke-width="3"/><circle cx="266" cy="469.5" r="3.7" fill="#1266f1"/><circle cx="170" cy="469" r="23" fill="url(#halo)"/><circle cx="170" cy="469" r="20.6" fill="#fff"/><circle cx="170" cy="469" r="17.2" fill="#1266f1"/><text x="170" y="477.3" text-anchor="middle" class="bn" fill="#fff" stroke="#fff" stroke-width="0.45">5</text><line x1="190" y1="531" x2="268" y2="531" stroke="#1266f1" stroke-width="3"/><circle cx="268" cy="531" r="3.7" fill="#1266f1"/><circle cx="170" cy="529.7" r="23" fill="url(#halo)"/><circle cx="170" cy="529.7" r="20.6" fill="#fff"/><circle cx="170" cy="529.7" r="17.2" fill="#1266f1"/><text x="170" y="538.0" text-anchor="middle" class="bn" fill="#fff" stroke="#fff" stroke-width="0.45">6</text><line x1="508" y1="470.5" x2="388" y2="470.5" stroke="#1266f1" stroke-width="3"/><circle cx="388" cy="470.5" r="3.7" fill="#1266f1"/><circle cx="529" cy="469.6" r="23" fill="url(#halo)"/><circle cx="529" cy="469.6" r="20.6" fill="#fff"/><circle cx="529" cy="469.6" r="17.2" fill="#1266f1"/><text x="529" y="477.90000000000003" text-anchor="middle" class="bn" fill="#fff" stroke="#fff" stroke-width="0.45">7</text>
</svg>
</body></html>
